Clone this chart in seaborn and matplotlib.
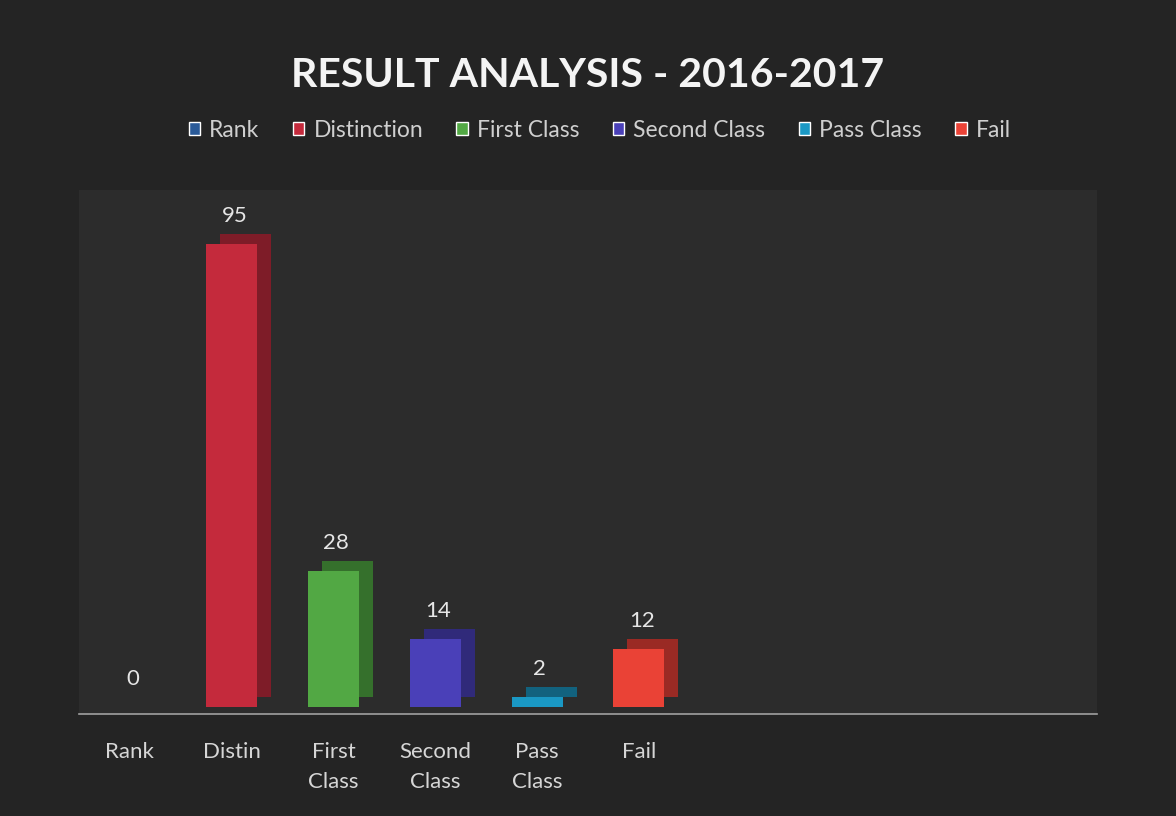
import matplotlib
matplotlib.use("Agg")
import matplotlib.pyplot as plt
import matplotlib.transforms as mtransforms
from matplotlib.patches import Patch
import pandas as pd
import seaborn as sns

# data
categories = ["Rank", "Distin", "First\nClass", "Second\nClass", "Pass\nClass", "Fail"]
legend_names = ["Rank", "Distinction", "First Class", "Second Class", "Pass Class", "Fail"]
values = [0, 95, 28, 14, 2, 12]
face_colors = ["#2a5a98", "#c42a3c", "#52a844", "#4a40b8", "#1a98c4", "#ea4236"]
side_colors = ["#1c3a60", "#7e1c28", "#35702c", "#302a7a", "#12627e", "#9a2a24"]

df = pd.DataFrame({"category": categories, "value": values})

sns.set_style("dark")
plt.rcParams["font.family"] = ["Lato", "DejaVu Sans"]

fig = plt.figure(figsize=(11.76, 8.16), dpi=100, facecolor="#242424")
ax = fig.add_axes([0.067, 0.125, 0.866, 0.642])
ax.set_facecolor("#2c2c2c")

# darker bars shifted up-right give the 3D side
sns.barplot(data=df, x="category", y="value", hue="category", palette=side_colors,
            order=categories, width=0.5, legend=False, ax=ax, saturation=1,
            linewidth=0)
offset = mtransforms.ScaledTranslation(14 / 100, 10 / 100, fig.dpi_scale_trans)
for p in list(ax.patches):
    p.set_transform(ax.transData + offset)

# front faces
sns.barplot(data=df, x="category", y="value", hue="category", palette=face_colors,
            order=categories, width=0.5, legend=False, ax=ax, saturation=1,
            linewidth=0)

for i, v in enumerate(values):
    ax.annotate(str(v), (i, v), xytext=(2, 13), textcoords="offset points",
                ha="center", va="bottom", color="#e6e6e6", fontsize=16)

ax.set_xlim(-0.5, 9.5)
ax.set_ylim(-1.4, 106)
ax.set_yticks([])
ax.set_xlabel("")
ax.set_ylabel("")
ax.set_xticks(range(len(categories)))
ax.set_xticklabels(categories, color="#d6d6d6", fontsize=16, linespacing=1.65)
ax.tick_params(axis="x", length=0, pad=20)
for s in ["top", "right", "left"]:
    ax.spines[s].set_visible(False)
ax.spines["bottom"].set_color("#a0a0a0")
ax.spines["bottom"].set_linewidth(1.2)

fig.suptitle("RESULT ANALYSIS - 2016-2017", y=0.93, fontsize=29.5,
             fontweight="bold", color="#f4f4f4")

handles = [Patch(facecolor=c) for c in face_colors]
fig.legend(handles, legend_names, loc="center", bbox_to_anchor=(0.51, 0.84),
           ncol=6, frameon=False, fontsize=16.5, labelcolor="#cfcfcf",
           handlelength=0.5, handleheight=0.5, handletextpad=0.4,
           columnspacing=1.45)

fig.savefig("out.png", dpi=100, facecolor=fig.get_facecolor())
